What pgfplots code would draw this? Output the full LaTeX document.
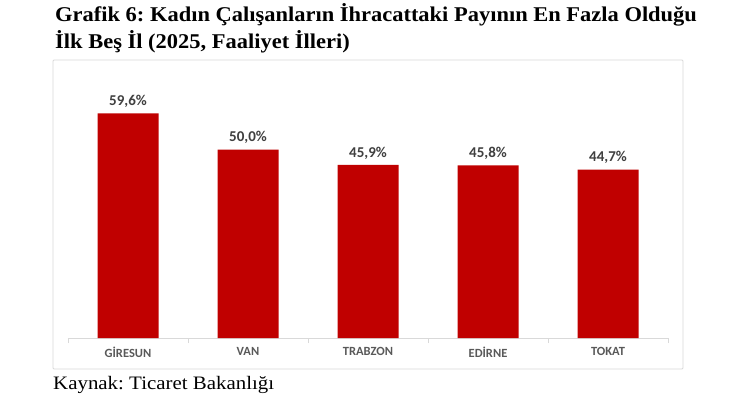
\documentclass[border=0pt]{standalone}
\usepackage{fontspec}
\setmainfont{Liberation Serif}
\newfontfamily\carlito{Carlito}
\usepackage{pgfplots}
\pgfplotsset{compat=1.18}
\definecolor{barred}{HTML}{C00000}
\definecolor{lblgray}{HTML}{404040}
\definecolor{tickgray}{HTML}{595959}
\definecolor{linegray}{HTML}{D9D9D9}
\frenchspacing
\begin{document}
\begin{tikzpicture}[x=1pt,y=1pt]
\path[fill=white] (0,0) rectangle (750,410);
\draw[color=linegray, line width=0.8pt, rounded corners=1pt] (53,41) rectangle (683,350);
\node[anchor=base west, inner sep=0pt, font=\bfseries\fontsize{21}{21}\selectfont] at (55,388) {\scalebox{1.07}[1]{Grafik 6: Kadın Çalışanların İhracattaki Payının En Fazla Olduğu}};
\node[anchor=base west, inner sep=0pt, font=\bfseries\fontsize{21}{21}\selectfont] at (55,361) {\scalebox{1.07}[1]{İlk Beş İl (2025, Faaliyet İlleri)}};
\node[anchor=base west, inner sep=0pt, font=\fontsize{19}{19}\selectfont] at (53,20) {\scalebox{1.1}[1]{Kaynak: Ticaret Bakanlığı}};
\begin{axis}[
  at={(68pt,72pt)}, anchor=south west,
  scale only axis, width=600pt, height=245pt,
  xmin=-0.5, xmax=4.5, ymin=0, ymax=65,
  axis x line*=bottom, axis y line=none,
  x axis line style={draw=linegray, line width=0.8pt, -},
  xtick={0,1,2,3,4},
  xticklabels={GİRESUN,VAN,TRABZON,EDİRNE,TOKAT},
  major tick length=0pt,
  minor xtick={-0.5,0.5,1.5,2.5,3.5,4.5},
  minor tick length=5pt, tick align=outside,
  minor tick style={draw=linegray, line width=0.8pt},
  xticklabel style={font=\carlito\bfseries\fontsize{12.5}{12.5}\selectfont, text=tickgray, yshift=-6pt},
  ybar, bar width=61pt,
  clip=false,
  point meta=explicit symbolic,
  nodes near coords,
  nodes near coords style={font=\carlito\bfseries\fontsize{15}{15}\selectfont, text=lblgray, yshift=2pt},
]
\addplot[fill=barred, draw=none] coordinates {
  (0,59.6) [59,6\%]
  (1,50.0) [50,0\%]
  (2,45.9) [45,9\%]
  (3,45.8) [45,8\%]
  (4,44.7) [44,7\%]
};
\end{axis}
\end{tikzpicture}
\end{document}
